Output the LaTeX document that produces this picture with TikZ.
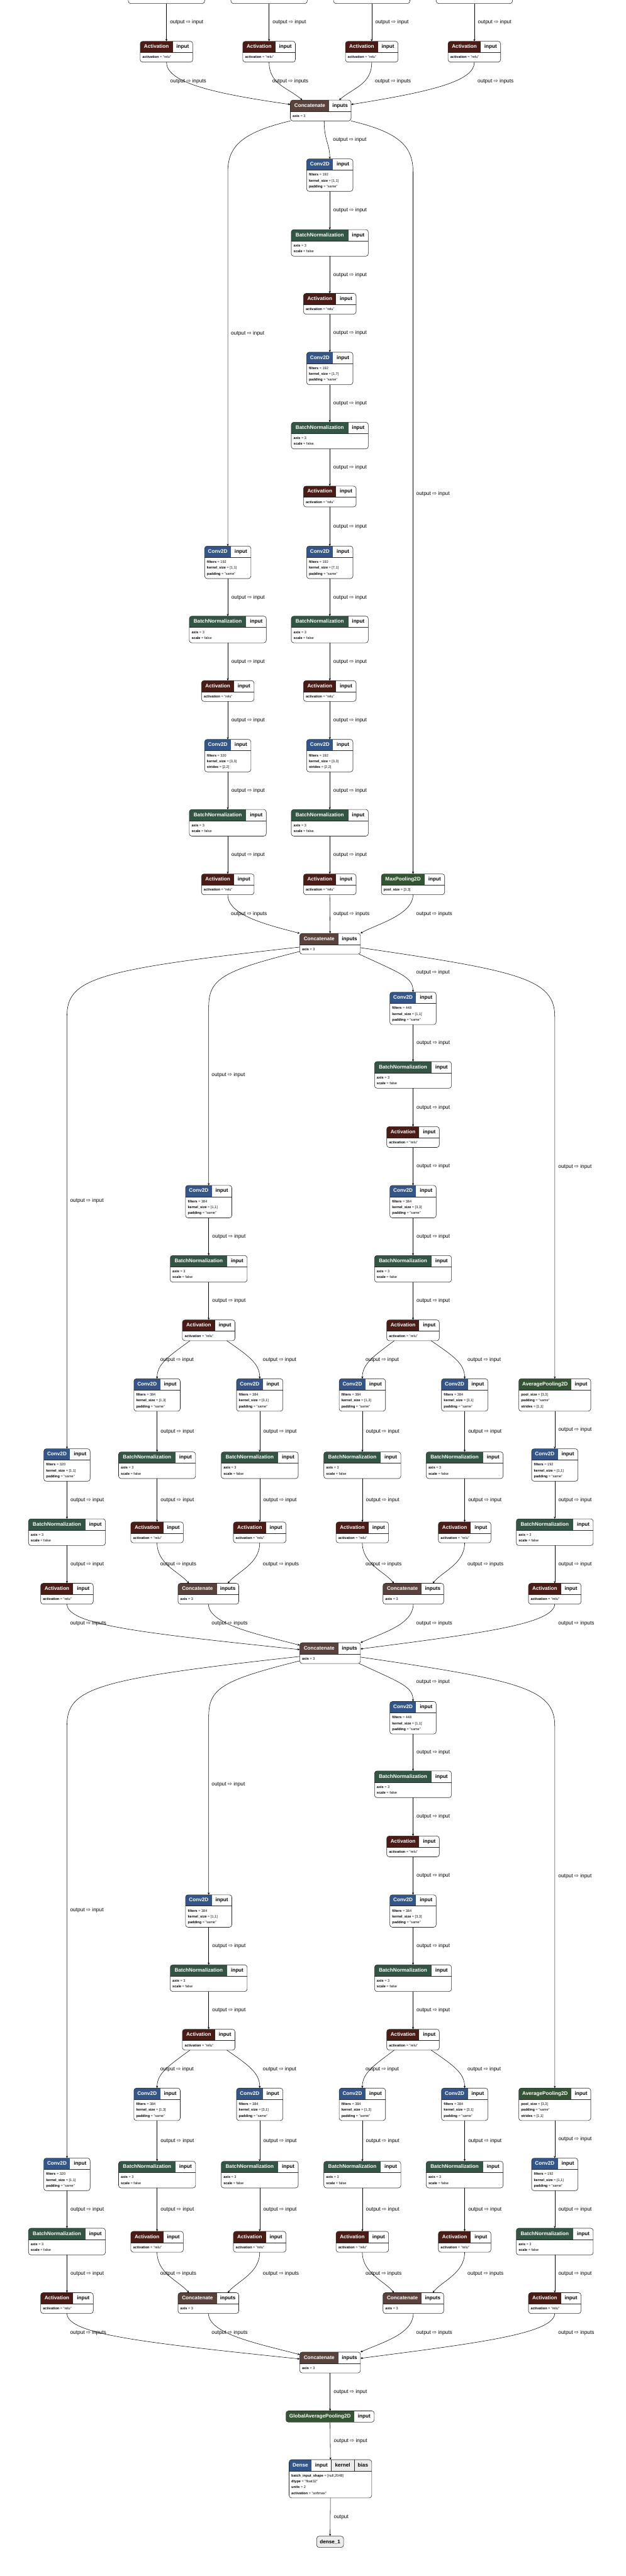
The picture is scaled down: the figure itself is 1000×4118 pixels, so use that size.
\documentclass[tikz,border=0pt]{standalone}
\usepackage{fontspec}
\setmainfont{Liberation Sans}
\newfontfamily\djv{DejaVu Sans}
\usetikzlibrary{arrows.meta,calc}

\definecolor{cconv}{RGB}{51,85,136}
\definecolor{cbn}{RGB}{51,85,68}
\definecolor{cact}{RGB}{75,27,22}
\definecolor{ccat}{RGB}{89,66,59}
\definecolor{cpool}{RGB}{51,85,51}
\definecolor{cgrey}{RGB}{236,236,236}

\pgfkeys{/ly/.cd,
 title/.store in=\lyTitle, tw/.store in=\lyTW, port/.store in=\lyPort,
 pw/.store in=\lyPW, col/.store in=\lyCol, n/.store in=\lyN,
 conv/.style={title=Conv2D,tw=42,port=input,pw=32,col=cconv,n=3},
 bn/.style={title=BatchNormalization,tw=91,port=input,pw=32,col=cbn,n=2},
 act/.style={title=Activation,tw=52,port=input,pw=32,col=cact,n=1},
 cat/.style={title=Concatenate,tw=62,port=inputs,pw=35,col=ccat,n=1},
 maxp/.style={title=MaxPooling2D,tw=69,port=input,pw=32,col=cpool,n=1},
 avgp/.style={title=AveragePooling2D,tw=84,port=input,pw=31,col=cpool,n=3},
 gapk/.style={title=GlobalAveragePooling2D,tw=109,port=input,pw=32,col=cpool,n=0},
}

\tikzset{
 edge/.style={draw=black, line width=0.55pt, -{Stealth[length=3.6pt,width=3.2pt]}},
 bord/.style={draw=black!85, line width=0.6pt},
 layer/.style={inner sep=0pt, outer sep=0pt},
 hdr/.style={inner sep=0pt, font=\fontsize{8.2}{9}\selectfont\bfseries, text height=6pt, text depth=1.7pt},
 attr/.style={anchor=west, inner sep=0pt, font=\fontsize{5.6}{6.5}\selectfont, text height=4.1pt, text depth=1.2pt},
 lbl/.style={anchor=west, inner sep=0pt, font=\fontsize{8.4}{10}\selectfont, text height=6.1pt, text depth=1.8pt},
 vlbl/.style={lbl, xshift=5.5pt},
 topbox/.style={bord, rounded corners=4pt, fill=white, minimum width=122pt, minimum height=50pt, anchor=south, inner sep=0pt},
}

\newcommand\oi{output {\djv ⇨} input}
\newcommand\oin{output {\djv ⇨} inputs}

\newcounter{atc}
\newcounter{ec}
\newcommand\lyr[5]{%
  \pgfkeys{/ly/.cd,#2}%
  \def\lyName{#1}%
  \pgfmathsetmacro\lyW{\lyTW+\lyPW}%
  \pgfmathsetmacro\lyH{\lyN>0 ? 24+9.3*\lyN : 18}%
  \pgfmathsetmacro\lyL{#3-\lyW/2}%
  \pgfmathsetmacro\lyT{#4}%
  \begin{scope}
    \clip[rounded corners=4pt] (\lyL,\lyT) rectangle ++(\lyW,\lyH);
    \fill[white] (\lyL,\lyT) rectangle ++(\lyW,\lyH);
    \fill[\lyCol] (\lyL,\lyT) rectangle ++(\lyTW,18);
  \end{scope}
  \draw[bord, rounded corners=4pt] (\lyL,\lyT) rectangle ++(\lyW,\lyH);
  \ifdim\lyN pt>0pt \draw[bord] (\lyL,\lyT+18) -- ++(\lyW,0);\fi
  \node[layer, minimum width=\lyW pt, minimum height=\lyH pt, anchor=north] (#1) at (#3,#4) {};
  \node[hdr, text=white] (#1-t) at (\lyL+\lyTW/2,\lyT+9) {\lyTitle};
  \node[hdr] (#1-p) at (\lyL+\lyTW+\lyPW/2,\lyT+9) {\lyPort};
  \setcounter{atc}{0}%
  #5%
}
\newcommand\at[2]{\stepcounter{atc}\node[attr] (\lyName-a\arabic{atc}) at (\lyL+3.5,\lyT+16.7+9.3*\arabic{atc}) {\textbf{#1} = #2};}
\newcommand\ve[3][\oi]{\stepcounter{ec}\draw[edge] (#2.south) -- node[vlbl] (lab\arabic{ec}) {#1} (#3.north);}

\newcommand\cv[3]{\at{filters}{#1}\at{kernel\_size}{#2}\at{padding}{"#3"}}
\newcommand\bnat{\at{axis}{3}\at{scale}{false}}
\newcommand\relu{\at{activation}{"relu"}}

% one inception block (drawn in the frame of the first one)
\newcommand\incep[2]{%
  \lyr{#1c1}{conv}{660}{1586}{\cv{448}{[1,1]}{same}}
  \lyr{#1bn1}{bn}{660}{1697}{\bnat}
  \lyr{#1a1}{act}{660}{1801}{\relu}
  \lyr{#1c2}{conv}{660}{1895}{\cv{384}{[3,3]}{same}}
  \lyr{#1bn2}{bn}{660}{2007}{\bnat}
  \lyr{#1a2}{act}{660}{2110}{\relu}
  \lyr{#1l1}{conv}{333.5}{1895}{\cv{384}{[1,1]}{same}}
  \lyr{#1lbn1}{bn}{333.5}{2007}{\bnat}
  \lyr{#1la1}{act}{333.5}{2110}{\relu}
  \lyr{#1m1}{conv}{251}{2204}{\cv{384}{[1,3]}{same}}
  \lyr{#1m2}{conv}{415}{2204}{\cv{384}{[3,1]}{same}}
  \lyr{#1m3}{conv}{579}{2204}{\cv{384}{[1,3]}{same}}
  \lyr{#1m4}{conv}{742.5}{2204}{\cv{384}{[3,1]}{same}}
  \lyr{#1ap}{avgp}{886.5}{2204}{\at{pool\_size}{[3,3]}\at{padding}{"same"}\at{strides}{[1,1]}}
  \lyr{#1f1}{conv}{107}{2316}{\cv{320}{[1,1]}{same}}
  \lyr{#1r1}{conv}{886.5}{2316}{\cv{192}{[1,1]}{same}}
  \lyr{#1mb1}{bn}{251}{2321}{\bnat}
  \lyr{#1mb2}{bn}{415}{2321}{\bnat}
  \lyr{#1mb3}{bn}{579}{2321}{\bnat}
  \lyr{#1mb4}{bn}{742.5}{2321}{\bnat}
  \lyr{#1fbn}{bn}{107}{2428}{\bnat}
  \lyr{#1rbn}{bn}{886.5}{2428}{\bnat}
  \lyr{#1ma1}{act}{251}{2433}{\relu}
  \lyr{#1ma2}{act}{415}{2433}{\relu}
  \lyr{#1ma3}{act}{579}{2433}{\relu}
  \lyr{#1ma4}{act}{742.5}{2433}{\relu}
  \lyr{#1fa}{act}{107}{2531}{\relu}
  \lyr{#1k1}{cat}{333}{2531}{\at{axis}{3}}
  \lyr{#1k2}{cat}{660.5}{2531}{\at{axis}{3}}
  \lyr{#1ra}{act}{886.5}{2531}{\relu}
  \lyr{#1cat}{cat}{527.5}{2626}{\at{axis}{3}}
  % from the previous concatenate
  \draw[edge] ([yshift=-22pt]#2.north west) .. controls (150,1550) and (107,1565) .. (107,1625) -- (#1f1.north);
  \node[lbl] (#1lf) at (112,1920) {\oi};
  \draw[edge] ([yshift=-29pt]#2.north west) .. controls (355,1552) and (333.5,1565) .. (333.5,1610) -- (#1l1.north);
  \node[lbl] (#1ll) at (338,1719) {\oi};
  \draw[edge] ([xshift=-2pt]#2.south east) .. controls (640,1556) and (660,1562) .. (#1c1.north);
  \node[lbl] (#1lc) at (665,1555) {\oi};
  \draw[edge] ([yshift=-23pt]#2.north east) .. controls (830,1552) and (886.5,1565) .. (886.5,1625) -- (#1ap.north);
  \node[lbl] (#1lr) at (892,1865) {\oi};
  % chains
  \ve{#1c1}{#1bn1}\ve{#1bn1}{#1a1}\ve{#1a1}{#1c2}\ve{#1c2}{#1bn2}\ve{#1bn2}{#1a2}
  \ve{#1l1}{#1lbn1}\ve{#1lbn1}{#1la1}
  \draw[edge] ([xshift=-30pt]#1la1.south) .. controls (270,2168) and (251,2180) .. (#1m1.north);
  \draw[edge] ([xshift=29pt]#1la1.south) .. controls (398,2168) and (415,2180) .. (#1m2.north);
  \draw[edge] ([xshift=-30pt]#1a2.south) .. controls (597,2168) and (579,2180) .. (#1m3.north);
  \draw[edge] ([xshift=29pt]#1a2.south) .. controls (725,2168) and (742.5,2180) .. (#1m4.north);
  \node[lbl] (#1lb1) at (256,2174) {\oi};
  \node[lbl] (#1lb2) at (420,2174) {\oi};
  \node[lbl] (#1lb3) at (584,2174) {\oi};
  \node[lbl] (#1lb4) at (747,2174) {\oi};
  \ve{#1m1}{#1mb1}\ve{#1m2}{#1mb2}\ve{#1m3}{#1mb3}\ve{#1m4}{#1mb4}
  \ve{#1mb1}{#1ma1}\ve{#1mb2}{#1ma2}\ve{#1mb3}{#1ma3}\ve{#1mb4}{#1ma4}
  \ve{#1ap}{#1r1}\ve{#1r1}{#1rbn}\ve{#1rbn}{#1ra}
  \ve{#1f1}{#1fbn}\ve{#1fbn}{#1fa}
  \draw[edge] (#1ma1.south) .. controls (251,2500) and (285,2512) .. ([xshift=-31pt]#1k1.north);
  \draw[edge] (#1ma2.south) .. controls (415,2500) and (380,2512) .. ([xshift=31pt]#1k1.north);
  \draw[edge] (#1ma3.south) .. controls (579,2500) and (614,2512) .. ([xshift=-31pt]#1k2.north);
  \draw[edge] (#1ma4.south) .. controls (742.5,2500) and (707,2512) .. ([xshift=31pt]#1k2.north);
  \node[lbl] (#1lk1) at (256,2501) {\oin};
  \node[lbl] (#1lk2) at (420,2501) {\oin};
  \node[lbl] (#1lk3) at (584,2501) {\oin};
  \node[lbl] (#1lk4) at (747,2501) {\oin};
  % into the block concatenate
  \draw[edge] (#1fa.south) .. controls (108,2597) and (220,2610) .. ([yshift=-11pt]#1cat.north west);
  \draw[edge] (#1k1.south) .. controls (334,2597) and (410,2612) .. ([yshift=-4pt]#1cat.north west);
  \draw[edge] (#1k2.south) .. controls (660,2597) and (612,2610) .. (#1cat.north east);
  \draw[edge] (#1ra.south) .. controls (885,2597) and (760,2612) .. ([yshift=-10pt]#1cat.north east);
  \node[lbl] (#1lo1) at (112,2595) {\oin};
  \node[lbl] (#1lo2) at (338,2595) {\oin};
  \node[lbl] (#1lo3) at (665,2595) {\oin};
  \node[lbl] (#1lo4) at (892,2595) {\oin};
}

\begin{document}
\begin{tikzpicture}[x=1pt,y=-1pt]
\useasboundingbox (0,0) rectangle (1000,4118);
\fill[white] (0,0) rectangle (1000,4118);

% ---------- top ----------
\node[topbox] (t1) at (266,6) {};
\node[topbox] (t2) at (430,6) {};
\node[topbox] (t3) at (594,6) {};
\node[topbox] (t4) at (758,6) {};
\lyr{A1}{act}{266}{66}{\relu}
\lyr{A2}{act}{430}{66}{\relu}
\lyr{A3}{act}{594}{66}{\relu}
\lyr{A4}{act}{758}{66}{\relu}
\ve{t1}{A1}\ve{t2}{A2}\ve{t3}{A3}\ve{t4}{A4}
\lyr{catA}{cat}{512.5}{160}{\at{axis}{3}}
\draw[edge] (A1.south) .. controls (266,130) and (330,148) .. ([yshift=-7pt]catA.north west);
\draw[edge] (A2.south) .. controls (430,135) and (460,140) .. ([xshift=19pt]catA.north west);
\draw[edge] (A3.south) .. controls (594,135) and (565,140) .. ([xshift=-19pt]catA.north east);
\draw[edge] (A4.south) .. controls (758,128) and (700,145) .. ([yshift=-7pt]catA.north east);
\node[lbl] (la1) at (272,130) {\oin};
\node[lbl] (la2) at (435,130) {\oin};
\node[lbl] (la3) at (599,130) {\oin};
\node[lbl] (la4) at (763,130) {\oin};

% ---------- reduction block ----------
\lyr{b1}{conv}{527}{254}{\cv{192}{[1,1]}{same}}
\lyr{bb1}{bn}{527}{367}{\bnat}
\lyr{ba1}{act}{527}{469}{\relu}
\lyr{b2}{conv}{527}{563}{\cv{192}{[1,7]}{same}}
\lyr{bb2}{bn}{527}{675}{\bnat}
\lyr{ba2}{act}{527}{777}{\relu}
\lyr{b3}{conv}{527}{873}{\cv{192}{[7,1]}{same}}
\lyr{bb3}{bn}{527}{985}{\bnat}
\lyr{ba3}{act}{527}{1088}{\relu}
\lyr{b4}{conv}{527}{1182}{\at{filters}{192}\at{kernel\_size}{[3,3]}\at{strides}{[2,2]}}
\lyr{bb4}{bn}{527}{1294}{\bnat}
\lyr{ba4}{act}{527}{1397}{\relu}
\lyr{bl1}{conv}{364}{873}{\cv{192}{[1,1]}{same}}
\lyr{blb1}{bn}{364}{985}{\bnat}
\lyr{bla1}{act}{364}{1088}{\relu}
\lyr{bl2}{conv}{364}{1182}{\at{filters}{320}\at{kernel\_size}{[3,3]}\at{strides}{[2,2]}}
\lyr{blb2}{bn}{364}{1294}{\bnat}
\lyr{bla2}{act}{364}{1397}{\relu}
\lyr{bmp}{maxp}{660}{1397}{\at{pool\_size}{[3,3]}}
\lyr{catB}{cat}{527.5}{1492}{\at{axis}{3}}

\draw[edge] ([xshift=5.5pt]catA.south) .. controls (518,225) and (527,230) .. (b1.north);
\node[lbl] (lb0) at (532,224) {\oi};
\draw[edge] (catA.south west) .. controls (385,212) and (364,235) .. (364,275) -- (bl1.north);
\node[lbl] (lbl0) at (369,533) {\oi};
\draw[edge] (catA.south east) .. controls (640,212) and (660,235) .. (660,275) -- (bmp.north);
\node[lbl] (lbr0) at (665,790) {\oi};
\ve{b1}{bb1}\ve{bb1}{ba1}\ve{ba1}{b2}\ve{b2}{bb2}\ve{bb2}{ba2}\ve{ba2}{b3}
\ve{b3}{bb3}\ve{bb3}{ba3}\ve{ba3}{b4}\ve{b4}{bb4}\ve{bb4}{ba4}
\ve{bl1}{blb1}\ve{blb1}{bla1}\ve{bla1}{bl2}\ve{bl2}{blb2}\ve{blb2}{bla2}
\draw[edge] (bla2.south) .. controls (364,1463) and (425,1478) .. (catB.north west);
\ve[\oin]{ba4}{catB}
\draw[edge] (bmp.south) .. controls (660,1463) and (600,1478) .. (catB.north east);
\node[lbl] (lbc1) at (369,1461) {\oin};
\node[lbl] (lbc3) at (665,1461) {\oin};

% ---------- two inception blocks ----------
\incep{C}{catB}
\begin{scope}[yshift=-1134pt]
\incep{D}{Ccat}
\end{scope}

% ---------- head ----------
\lyr{gap}{gapk}{527.5}{3854}{}
\ve{Dcat}{gap}
% Dense
\def\lyName{dense}\def\lyL{462}\def\lyT{3932}
\begin{scope}
  \clip[rounded corners=4pt] (462,3932) rectangle ++(132,61.2);
  \fill[white] (462,3932) rectangle ++(132,61.2);
  \fill[cconv] (462,3932) rectangle ++(36,18);
  \fill[cgrey] (529,3932) rectangle ++(65,18);
\end{scope}
\draw[bord, rounded corners=4pt] (462,3932) rectangle ++(132,61.2);
\draw[bord] (462,3950) -- ++(132,0);
\draw[bord] (529,3932) -- ++(0,18);
\draw[bord] (566,3932) -- ++(0,18);
\node[layer, minimum width=132pt, minimum height=61.2pt, anchor=north] (dense) at (528,3932) {};
\node[hdr, text=white] (dense-t) at (480,3941) {Dense};
\node[hdr] (dense-p1) at (513.5,3941) {input};
\node[hdr] (dense-p2) at (547.5,3941) {kernel};
\node[hdr] (dense-p3) at (580,3941) {bias};
\setcounter{atc}{0}
\at{batch\_input\_shape}{[null,2048]}\at{dtype}{"float32"}\at{units}{2}\at{activation}{"softmax"}
\ve{gap}{dense}
\node[draw=black!85, line width=0.6pt, rounded corners=4pt, fill=cgrey, minimum width=43pt, minimum height=18pt, inner sep=0pt, anchor=north, font=\fontsize{8.2}{9}\selectfont\bfseries] (out) at (527.5,4054) {dense\_1};
\ve[output]{dense}{out}
\end{tikzpicture}
\end{document}
